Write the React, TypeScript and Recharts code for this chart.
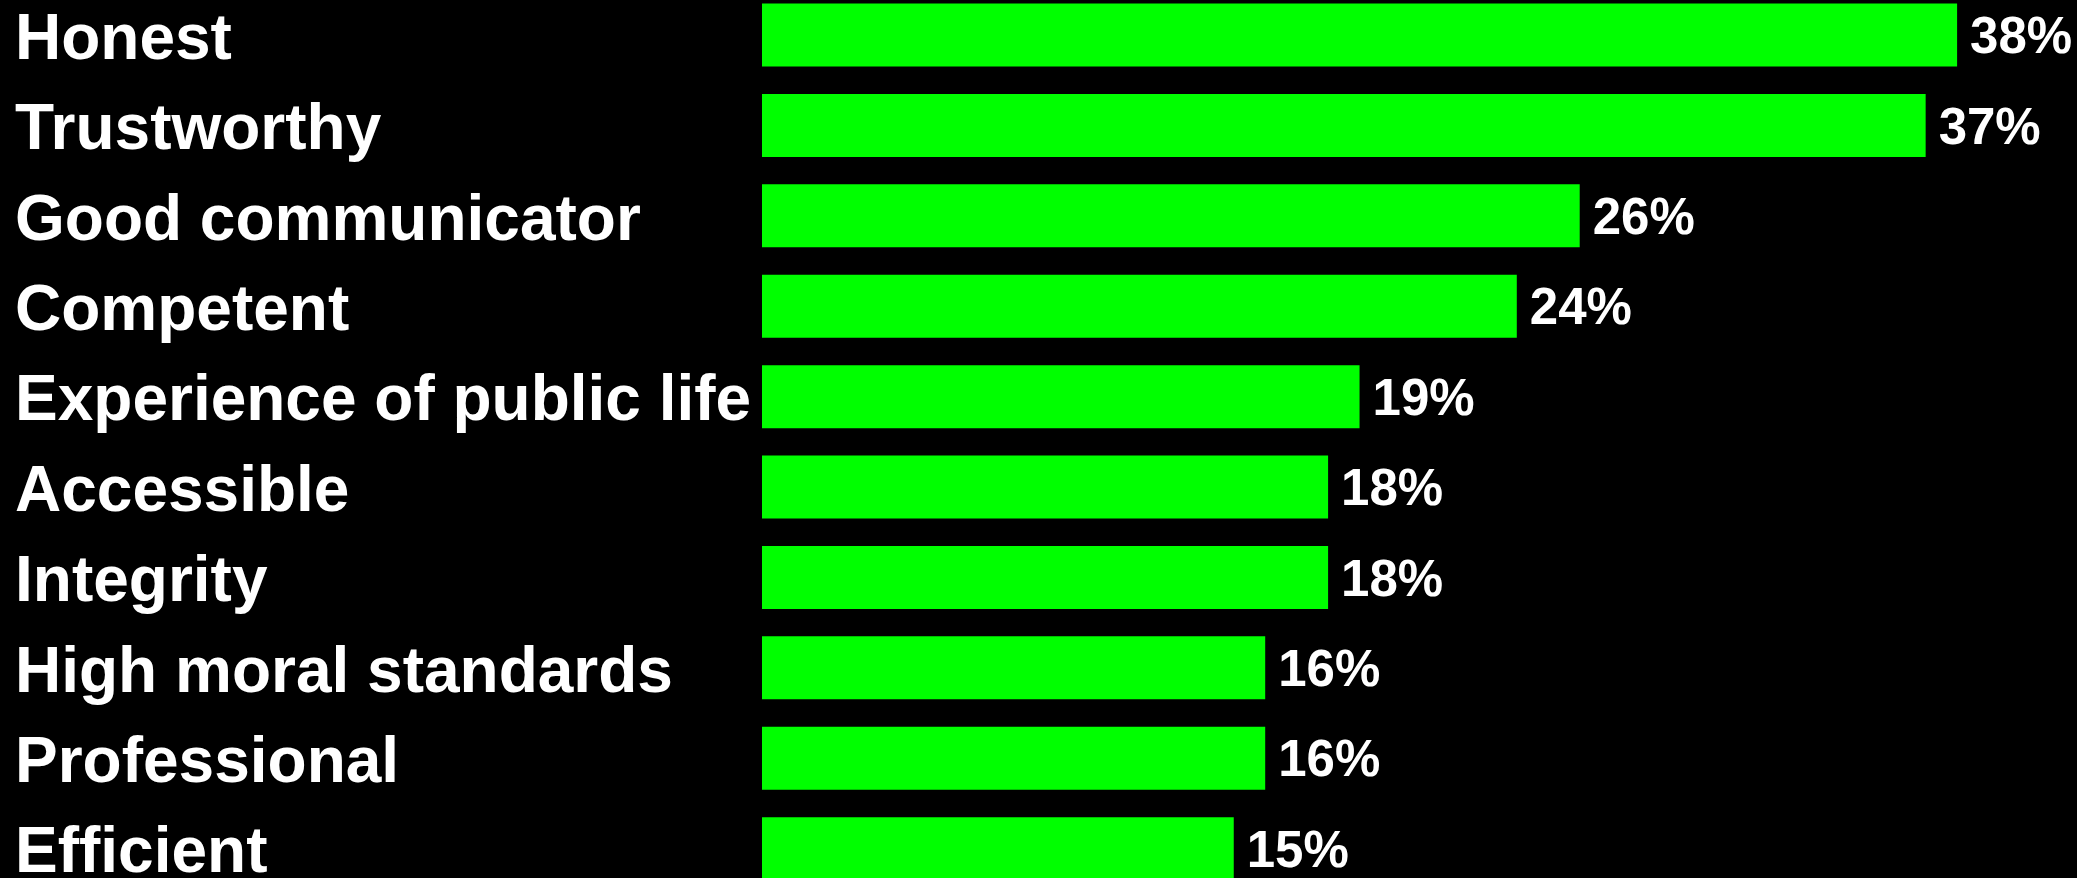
import * as React from 'react';
import { BarChart, Bar, XAxis, YAxis, LabelList } from 'recharts';

const categories = [
  'Honest',
  'Trustworthy',
  'Good communicator',
  'Competent',
  'Experience of public life',
  'Accessible',
  'Integrity',
  'High moral standards',
  'Professional',
  'Efficient',
];

const shares = [38, 37, 26, 24, 19, 18, 18, 16, 16, 15];

const FONT = '"Liberation Sans", Arial, Helvetica, sans-serif';
const GREEN = '#00ff00';

function CategoryTick(props: any) {
  const { y, payload } = props;
  return (
    <text
      x={15}
      y={y}
      dy="0.37em"
      textAnchor="start"
      fill="#ffffff"
      fontFamily={FONT}
      fontWeight={700}
      fontSize={64}
    >
      {payload.value}
    </text>
  );
}

export default function App() {
  const data = React.useMemo(
    () => categories.map((name, i) => ({ name, value: shares[i] })),
    []
  );

  return (
    <div
      style={{
        position: 'absolute',
        left: 0,
        top: 0,
        width: 2077,
        height: 878,
        overflow: 'hidden',
        background: '#000000',
      }}
    >
      <div style={{ position: 'absolute', left: 0, top: -10 }}>
        <BarChart
          layout="vertical"
          width={2077}
          height={904}
          data={data}
          margin={{ top: 0, right: 57, bottom: 0, left: 0 }}
          barCategoryGap="15%"
        >
          <XAxis type="number" domain={[0, 40]} hide />
          <YAxis
            type="category"
            dataKey="name"
            width={762}
            axisLine={false}
            tickLine={false}
            interval={0}
            tick={<CategoryTick />}
          />
          <Bar dataKey="value" fill={GREEN} isAnimationActive={false}>
            <LabelList
              dataKey="value"
              position="right"
              offset={13}
              formatter={(v: any) => `${v}%`}
              fill="#ffffff"
              fontFamily={FONT}
              fontWeight={700}
              fontSize={51}
            />
          </Bar>
        </BarChart>
      </div>
    </div>
  );
}
